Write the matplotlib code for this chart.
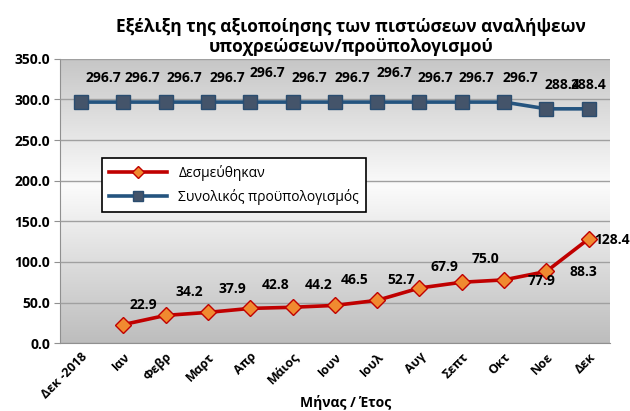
import numpy as np
import matplotlib
matplotlib.use("Agg")
import matplotlib.pyplot as plt
from matplotlib.colors import LinearSegmentedColormap

plt.rcParams['font.family'] = ['Open Sans', 'DejaVu Sans']

# data
months = ["Δεκ -2018", "Ιαν", "Φεβρ", "Μαρτ", "Απρ", "Μάιος", "Ιουν",
          "Ιουλ", "Αυγ", "Σεπτ", "Οκτ", "Νοε", "Δεκ"]
budget = [296.7, 296.7, 296.7, 296.7, 296.7, 296.7, 296.7,
          296.7, 296.7, 296.7, 296.7, 288.4, 288.4]
committed = [22.9, 34.2, 37.9, 42.8, 44.2, 46.5, 52.7,
             67.9, 75.0, 77.9, 88.3, 128.4]

# label offsets in pixels (as placed in the original)
budget_off = [(22, 24), (19, 24), (19, 24), (19, 24), (17, 29), (17, 24), (18, 24),
              (17, 29), (16, 24), (15, 24), (16, 24), (16, 24), (0, 24)]
committed_off = [(20, 20), (24, 23), (24, 23), (25, 23), (26, 22), (20, 25),
                 (24, 20), (25, 21), (24, 23), (37, -1), (37, -1), (23, -1)]

x_all = np.arange(len(months))
x_com = x_all[1:]

fig = plt.figure(figsize=(6.3, 4.11), dpi=100)
ax = fig.add_axes([0.095, 0.165, 0.873, 0.692])

# gradient background
cmap = LinearSegmentedColormap.from_list(
    "bg", [(0.0, "#bdbdbd"), (0.55, "#fbfbfb"), (1.0, "#c6c6c6")])
grad = np.linspace(0, 1, 256).reshape(-1, 1)
ax.imshow(grad, aspect="auto", cmap=cmap, origin="lower",
          extent=[-0.5, 12.5, 0, 350], zorder=0)

ax.set_xlim(-0.5, 12.5)
ax.set_ylim(0, 350)
ax.set_yticks(np.arange(0, 351, 50))
ax.set_yticklabels([f"{v:.1f}" for v in np.arange(0, 351, 50)],
                   fontsize=10, fontweight="bold")
ax.grid(axis="y", color="#a0a0a0", lw=1, zorder=1)
ax.set_axisbelow(False)

ax.plot(x_all, budget, color="#24547f", lw=2.6, marker="s", ms=9.5,
        mfc="#44546a", mec="#2a4d70", mew=1, zorder=3,
        label="Συνολικός προϋπολογισμός")
ax.plot(x_com, committed, color="#c00000", lw=2.6, marker="D", ms=8,
        mfc="#f08a30", mec="#c00000", mew=1, zorder=4,
        label="Δεσμεύθηκαν")

for xi, v, off in zip(x_all, budget, budget_off):
    ax.annotate(f"{v:.1f}", (xi, v), xytext=off, textcoords="offset pixels",
                ha="center", va="center", fontsize=10, fontweight="bold", zorder=5)
for xi, v, off in zip(x_com, committed, committed_off):
    ax.annotate(f"{v:.1f}", (xi, v), xytext=off, textcoords="offset pixels",
                ha="center", va="center", fontsize=10, fontweight="bold", zorder=5)

ax.set_xticks(x_all)
ax.set_xticklabels(months, rotation=45, ha="right", rotation_mode="anchor",
                   fontsize=9, fontweight="bold")
ax.tick_params(axis="x", length=0, pad=5)
ax.tick_params(axis="y", length=4, color="#909090", pad=3)
for s in ["top", "right"]:
    ax.spines[s].set_visible(False)
for s in ["left", "bottom"]:
    ax.spines[s].set_color("#909090")

fig.text(0.548, 0.02, "Μήνας / Έτος", ha="center", va="center",
         fontsize=10, fontweight="bold")

handles, labels = ax.get_legend_handles_labels()
leg = ax.legend(handles[::-1], labels[::-1], loc="upper left",
                bbox_to_anchor=(0.162, 0.616), bbox_transform=fig.transFigure,
                borderaxespad=0, fancybox=False, edgecolor="black",
                framealpha=1, fontsize=10, handlelength=4.2,
                borderpad=0.5, labelspacing=0.6, markerscale=0.75)
leg.get_frame().set_linewidth(1.2)

fig.text(0.557, 0.91, "Εξέλιξη της αξιοποίησης των πιστώσεων αναλήψεων\nυποχρεώσεων/προϋπολογισμού",
         ha="center", va="center", fontsize=12.5, fontweight="bold",
         linespacing=1.15)

fig.savefig("out.png", dpi=100)
